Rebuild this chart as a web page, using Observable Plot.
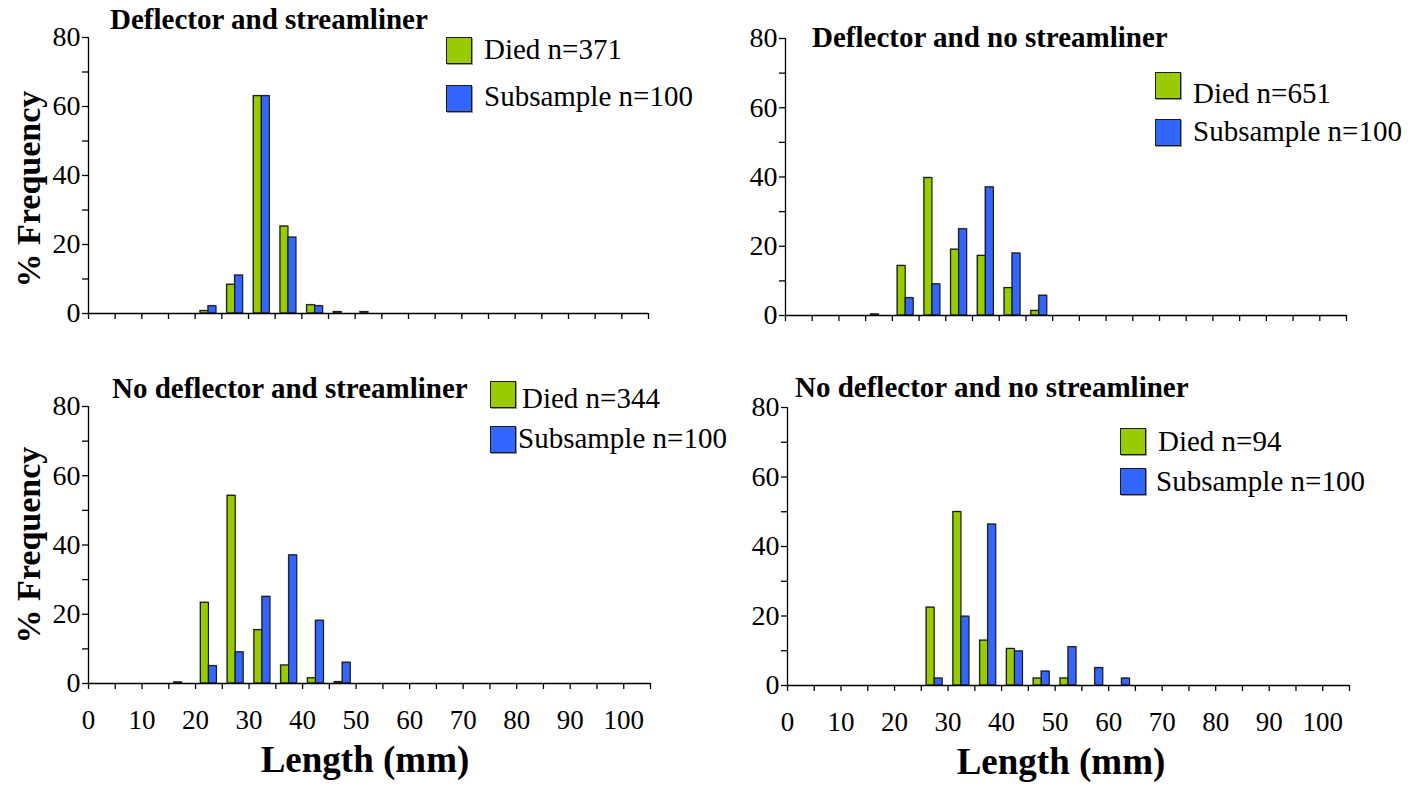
<!DOCTYPE html>
<html>
<head>
<meta charset="utf-8">
<script src="https://cdn.jsdelivr.net/npm/d3@7"></script>
<script src="https://cdn.jsdelivr.net/npm/@observablehq/plot@0.6"></script>
<style>
  html, body { margin: 0; padding: 0; background: #fff; }
  #root { position: relative; width: 1424px; height: 785px; background: #fff; overflow: hidden;
          font-family: "Liberation Serif", "Times New Roman", Times, serif; color: #000; }
  .panel { position: absolute; }
  .panel svg, .panel svg text { font-family: "Liberation Serif", "Times New Roman", Times, serif !important; }
  .txt { position: absolute; white-space: nowrap; line-height: 1; font-family: "Liberation Serif", "Times New Roman", Times, serif; }
  .sw { position: absolute; box-sizing: border-box; border: 1.2px solid #1a1a1a; box-shadow: 1px 1px 0 #999; }
</style>
</head>
<body>
<div id="root"></div>
<script>
// ---------------- DATA ----------------
const seriesNames = ["Died", "Subsample"];
const seriesColors = ["#99cc00", "#3366ff"];

const titles = [
  "Deflector and streamliner",
  "Deflector and no streamliner",
  "No deflector and streamliner",
  "No deflector and no streamliner"
];
const diedN = [371, 651, 344, 94];
const subN = [100, 100, 100, 100];

// bin start (mm) of each 5-mm length class
const bins1 = [20, 25, 30, 35, 40, 45, 50];
const died1 = [0.7, 8.3, 63.0, 25.2, 2.4, 0.4, 0.4];
const sub1  = [2.1, 11.0, 63.0, 22.0, 2.1, 0, 0];

const bins2 = [15, 20, 25, 30, 35, 40, 45];
const died2 = [0.3, 14.3, 39.7, 19.0, 17.2, 7.9, 1.3];
const sub2  = [0, 5.0, 9.0, 24.9, 37.0, 17.9, 5.7];

const bins3 = [15, 20, 25, 30, 35, 40, 45];
const died3 = [0.3, 23.3, 54.2, 15.4, 5.2, 1.5, 0.4];
const sub3  = [0, 5.0, 9.0, 25.0, 37.0, 18.1, 6.0];

const bins4 = [25, 30, 35, 40, 45, 50, 55, 60];
const died4 = [22.4, 49.9, 12.9, 10.5, 2.0, 2.0, 0, 0];
const sub4  = [2.0, 19.8, 46.3, 9.8, 4.0, 11.0, 5.0, 2.0];

const xTickValues = d3.range(0, 106, 5);
const xLabelValues = d3.range(0, 101, 10);
const yLabelValues = [0, 20, 40, 60, 80];
const yMinorValues = [10, 30, 50, 70];
const yLabel = "% Frequency";
const xLabel = "Length (mm)";

// ---------------- LAYOUT ----------------
const FONT = "'Liberation Serif', 'Times New Roman', Times, serif";
const root = document.getElementById("root");

const layouts = [
  {left: 0,   top: 0,   w: 700, h: 345, ml: 88, mr: 52, mt: 37, mb: 32, labels: false},
  {left: 700, top: 0,   w: 724, h: 345, ml: 85, mr: 78, mt: 38, mb: 30, labels: false},
  {left: 0,   top: 345, w: 700, h: 420, ml: 88, mr: 50, mt: 61, mb: 82, labels: true},
  {left: 700, top: 345, w: 724, h: 420, ml: 87, mr: 75, mt: 62, mb: 80, labels: true}
];

function buildPanel(lay, bins, died, sub) {
  const data = [];
  bins.forEach((b, i) => {
    data.push({bin: b, value: died[i], series: 0});
    data.push({bin: b, value: sub[i], series: 1});
  });
  const bars = data.filter(d => d.value > 0);
  const marks = [
    Plot.rect(bars, {
      x1: d => d.bin + (d.series === 0 ? 1 : 2.5),
      x2: d => d.bin + (d.series === 0 ? 2.5 : 4),
      y1: () => 0,
      y2: d => d.value,
      fill: "#b5b5b5",
      dx: -1, dy: -1
    }),
    Plot.rect(bars, {
      x1: d => d.bin + (d.series === 0 ? 1 : 2.5),
      x2: d => d.bin + (d.series === 0 ? 2.5 : 4),
      y1: () => 0,
      y2: d => d.value,
      fill: d => seriesColors[d.series],
      stroke: "#1a1a1a",
      strokeWidth: 1.2
    }),
    Plot.ruleX([0], {stroke: "#000", strokeWidth: 1.3}),
    Plot.ruleY([0], {stroke: "#000", strokeWidth: 1.3}),
    Plot.axisY({ticks: yLabelValues, tickSize: 6, tickPadding: 2, fontSize: 28, label: null, strokeWidth: 1.3}),
    Plot.axisY({ticks: yMinorValues, tickSize: 6, tickFormat: () => "", label: null, strokeWidth: 1.3}),
    Plot.axisX({ticks: xTickValues, tickSize: 6, tickFormat: () => "", label: null, strokeWidth: 1.3})
  ];
  if (lay.labels) {
    marks.push(Plot.axisX({ticks: xLabelValues, tickSize: 0, tickPadding: 26, fontSize: 27, label: null}));
  }
  const svg = Plot.plot({
    width: lay.w, height: lay.h,
    marginLeft: lay.ml, marginRight: lay.mr, marginTop: lay.mt, marginBottom: lay.mb,
    x: {domain: [0, 105]},
    y: {domain: [0, 80]},
    style: {fontFamily: FONT, fontSize: "27px", background: "transparent", color: "#000", overflow: "visible"},
    marks
  });
  const wrap = document.createElement("div");
  wrap.className = "panel";
  wrap.style.left = lay.left + "px";
  wrap.style.top = lay.top + "px";
  wrap.appendChild(svg);
  root.appendChild(wrap);
}

function addText(str, x, baseline, size, bold, anchor) {
  const el = document.createElement("div");
  el.className = "txt";
  el.textContent = str;
  el.style.fontSize = size + "px";
  el.style.fontWeight = bold ? "bold" : "normal";
  el.style.left = x + "px";
  el.style.top = (baseline - 0.8375 * size) + "px";
  if (anchor === "middle") el.style.transform = "translateX(-50%)";
  root.appendChild(el);
  return el;
}
function addRotated(str, cx, cy, size) {
  const el = document.createElement("div");
  el.className = "txt";
  el.textContent = str;
  el.style.fontSize = size + "px";
  el.style.fontWeight = "bold";
  el.style.left = cx + "px";
  el.style.top = cy + "px";
  el.style.transform = "translate(-50%, -50%) rotate(-90deg)";
  root.appendChild(el);
}
function addSwatch(x, y, w, h, color) {
  const el = document.createElement("div");
  el.className = "sw";
  el.style.left = x + "px"; el.style.top = y + "px";
  el.style.width = w + "px"; el.style.height = h + "px";
  el.style.background = color;
  root.appendChild(el);
}

buildPanel(layouts[0], bins1, died1, sub1);
buildPanel(layouts[1], bins2, died2, sub2);
buildPanel(layouts[2], bins3, died3, sub3);
buildPanel(layouts[3], bins4, died4, sub4);

// titles
const titlePos = [[110, 29], [812, 47], [112, 398], [795, 397]];
titles.forEach((t, i) => addText(t, titlePos[i][0], titlePos[i][1], 29, true));

// legends: [swatchX, swatch1Y, swatch2Y, text1X, text1Base, text2X, text2Base]
const legendPos = [
  [446, 37, 85, 484, 59, 484, 106],
  [1155, 72, 119, 1193, 103, 1193, 141],
  [490, 381, 426, 522, 408, 518, 448],
  [1120, 428, 468, 1158, 451, 1156, 491]
];
legendPos.forEach((p, i) => {
  addSwatch(p[0], p[1], 26, 27, seriesColors[0]);
  addSwatch(p[0], p[2], 26, 27, seriesColors[1]);
  addText(seriesNames[0] + " n=" + diedN[i], p[3], p[4], 29, false);
  addText(seriesNames[1] + " n=" + subN[i], p[5], p[6], 29, false);
});

// axis titles
addRotated(yLabel, 29, 189, 34);
addRotated(yLabel, 29, 545, 34);
addText(xLabel, 365, 772, 37, true, "middle");
addText(xLabel, 1061, 774, 37, true, "middle");
</script>
</body>
</html>
